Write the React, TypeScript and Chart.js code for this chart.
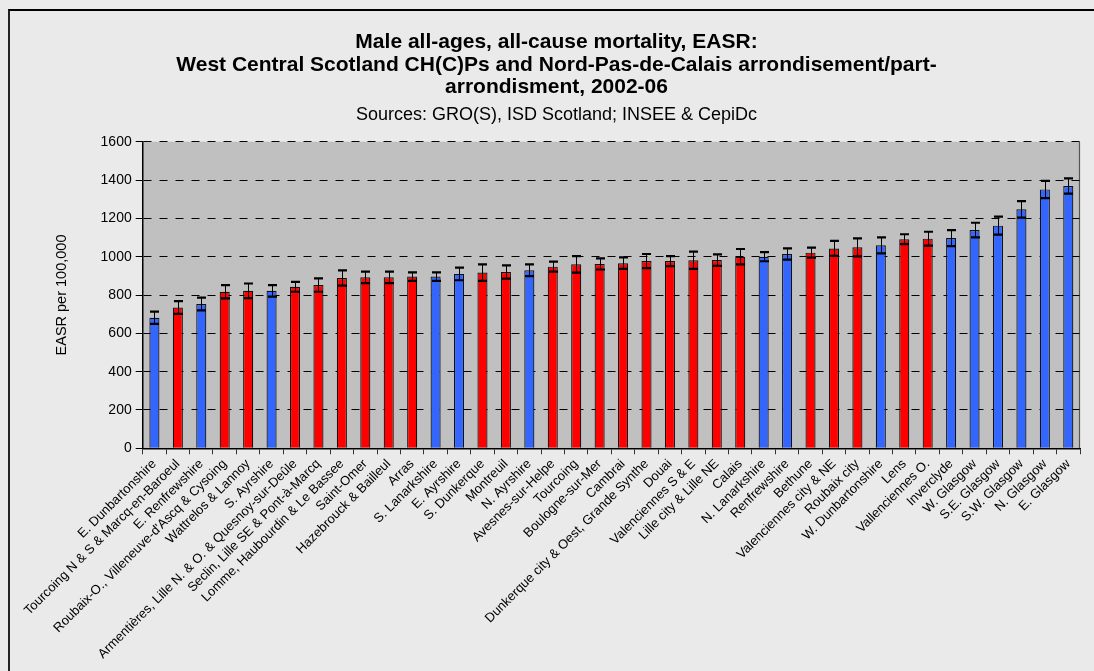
import React, { useEffect, useRef } from "react";
import { Chart, registerables } from "chart.js";

Chart.register(...registerables);

const categories = [
  "E. Dunbartonshire",
  "Tourcoing N & S & Marcq-en-Baroeul",
  "E. Renfrewshire",
  "Roubaix-O., Villeneuve-d'Ascq & Cysoing",
  "Wattrelos & Lannoy",
  "S. Ayrshire",
  "Armentières, Lille N. & O. & Quesnoy-sur-Deûle",
  "Seclin, Lille SE & Pont-à-Marcq",
  "Lomme, Haubourdin & Le Bassee",
  "Saint-Omer",
  "Hazebrouck & Bailleul",
  "Arras",
  "S. Lanarkshire",
  "E. Ayrshire",
  "S. Dunkerque",
  "Montreuil",
  "N. Ayrshire",
  "Avesnes-sur-Helpe",
  "Tourcoing",
  "Boulogne-sur-Mer",
  "Cambrai",
  "Dunkerque city & Oest, Grande Synthe",
  "Douai",
  "Valenciennes S & E",
  "Lille city & Lille NE",
  "Calais",
  "N. Lanarkshire",
  "Renfrewshire",
  "Bethune",
  "Valenciennes city & NE",
  "Roubaix city",
  "W. Dunbartonshire",
  "Lens",
  "Vallenciennes O.",
  "Inverclyde",
  "W. Glasgow",
  "S.E. Glasgow",
  "S.W. Glasgow",
  "N. Glasgow",
  "E. Glasgow",
];

// S = West Central Scotland, F = Nord-Pas-de-Calais
const country = [
  "S", "F", "S", "F", "F", "S", "F", "F", "F", "F",
  "F", "F", "S", "S", "F", "F", "S", "F", "F", "F",
  "F", "F", "F", "F", "F", "F", "S", "S", "F", "F",
  "F", "S", "F", "F", "S", "S", "S", "S", "S", "S",
];

const easr = [
  681, 735, 753, 817, 822, 822, 843, 852, 889, 892,
  892, 896, 896, 910, 917, 920, 929, 948, 960, 962,
  966, 977, 977, 981, 982, 1000, 1000, 1014, 1021, 1043,
  1049, 1059, 1091, 1094, 1097, 1139, 1162, 1247, 1351, 1369,
];

const ciHalfWidth = [
  32, 33, 33, 35, 38, 30, 26, 35, 40, 30,
  30, 22, 22, 33, 43, 35, 31, 26, 43, 29,
  30, 37, 26, 45, 30, 40, 24, 29, 26, 39,
  47, 42, 26, 36, 42, 38, 47, 43, 45, 40,
];

const yMin = 0;
const yMax = 1600;
const yStep = 200;

const titleLines = [
  "Male all-ages, all-cause mortality, EASR:",
  "West Central Scotland CH(C)Ps and Nord-Pas-de-Calais arrondisement/part-",
  "arrondisment, 2002-06",
];
const subtitleText = "Sources: GRO(S), ISD Scotland; INSEE & CepiDc";
const yAxisTitle = "EASR per 100,000";

const FONT = "'Liberation Sans', Arial, Helvetica, sans-serif";
const BLUE = "#3366FF";
const RED = "#FF0000";

const plotBackground = {
  id: "plotBackground",
  beforeDraw(chart: any) {
    const { ctx, chartArea: a } = chart;
    ctx.save();
    ctx.fillStyle = "#C0C0C0";
    ctx.fillRect(a.left, a.top, a.right - a.left, a.bottom - a.top);
    ctx.strokeStyle = "#555555";
    ctx.lineWidth = 1.2;
    ctx.beginPath();
    ctx.moveTo(a.right - 0.5, a.top);
    ctx.lineTo(a.right - 0.5, a.bottom);
    ctx.stroke();
    ctx.restore();
  },
};

const errorBars = {
  id: "errorBars",
  afterDatasetsDraw(chart: any) {
    const { ctx } = chart;
    const meta = chart.getDatasetMeta(0);
    const yScale = chart.scales.y;
    ctx.save();
    ctx.strokeStyle = "#000000";
    meta.data.forEach((bar: any, i: number) => {
      const v = easr[i];
      const e = ciHalfWidth[i];
      const yHi = yScale.getPixelForValue(v + e);
      const yLo = yScale.getPixelForValue(v - e);
      const x = Math.round(bar.x) + 0.5;
      ctx.lineWidth = 1;
      ctx.beginPath();
      ctx.moveTo(x, yLo);
      ctx.lineTo(x, yHi);
      ctx.stroke();
      ctx.lineWidth = 2.2;
      ctx.beginPath();
      ctx.moveTo(x - 4.5, yHi);
      ctx.lineTo(x + 4.5, yHi);
      ctx.moveTo(x - 4.5, yLo);
      ctx.lineTo(x + 4.5, yLo);
      ctx.stroke();
    });
    ctx.restore();
  },
};

export default function App() {
  const canvasRef = useRef<HTMLCanvasElement | null>(null);

  useEffect(() => {
    if (!canvasRef.current) return;
    const colors = country.map((c) => (c === "S" ? BLUE : RED));
    const chart = new Chart(canvasRef.current, {
      type: "bar",
      data: {
        labels: categories,
        datasets: [
          {
            data: easr,
            backgroundColor: colors,
            borderColor: "#111111",
            borderWidth: 1.2,
            barPercentage: 0.43,
            categoryPercentage: 1,
          },
        ],
      },
      options: {
        responsive: true,
        maintainAspectRatio: false,
        animation: false,
        devicePixelRatio: 1,
        layout: { padding: { left: 33, right: 33, top: 0, bottom: 0 } },
        plugins: {
          legend: { display: false },
          tooltip: { enabled: false },
          title: {
            display: true,
            text: titleLines,
            color: "#000000",
            font: { family: FONT, size: 21, weight: "bold", lineHeight: "22.5px" },
            padding: { top: 31.25, bottom: 4 },
          },
          subtitle: {
            display: true,
            text: subtitleText,
            color: "#000000",
            font: { family: FONT, size: 18, lineHeight: "17px" },
            padding: { top: 4.25, bottom: 17.7 },
          },
        },
        scales: {
          x: {
            offset: true,
            grid: {
              display: true,
              offset: true,
              drawOnChartArea: false,
              drawTicks: true,
              tickLength: 6,
              color: "#333333",
              tickColor: "#333333",
            },
            border: { display: true, color: "#000000", width: 1.5 },
            ticks: {
              autoSkip: false,
              maxRotation: 45,
              minRotation: 45,
              color: "#000000",
              padding: 2,
              font: { family: FONT, size: 13 },
            },
            afterFit(scale: any) {
              scale.height = 222.7;
            },
          },
          y: {
            min: yMin,
            max: yMax,
            ticks: {
              stepSize: yStep,
              color: "#000000",
              padding: 4,
              font: { family: FONT, size: 14 },
              callback: (value: any) => String(value),
            },
            grid: {
              color: "#000000",
              lineWidth: 1,
              tickLength: 7,
              tickBorderDash: [],
              tickColor: "#000000",
            },
            border: { display: true, color: "#000000", width: 1.5, dash: [8, 8] },
            title: {
              display: true,
              text: yAxisTitle,
              color: "#000000",
              font: { family: FONT, size: 14.5 },
              padding: { top: 20, bottom: 0 },
            },
            afterFit(scale: any) {
              scale.width = 109.7;
            },
          },
        },
      },
      plugins: [plotBackground, errorBars],
    } as any);
    return () => chart.destroy();
  }, []);

  return (
    <div
      style={{
        position: "fixed",
        left: 0,
        top: 0,
        width: 1094,
        height: 671,
        overflow: "hidden",
        background: "#EAEAEA",
      }}
    >
      <div
        style={{
          position: "absolute",
          left: 8,
          top: 9,
          width: 1200,
          height: 800,
          borderLeft: "2px solid #222222",
          borderTop: "2px solid #000000",
        }}
      />
      <div style={{ position: "absolute", left: 0, top: 0, width: 1113, height: 671 }}>
        <canvas ref={canvasRef} />
      </div>
    </div>
  );
}
